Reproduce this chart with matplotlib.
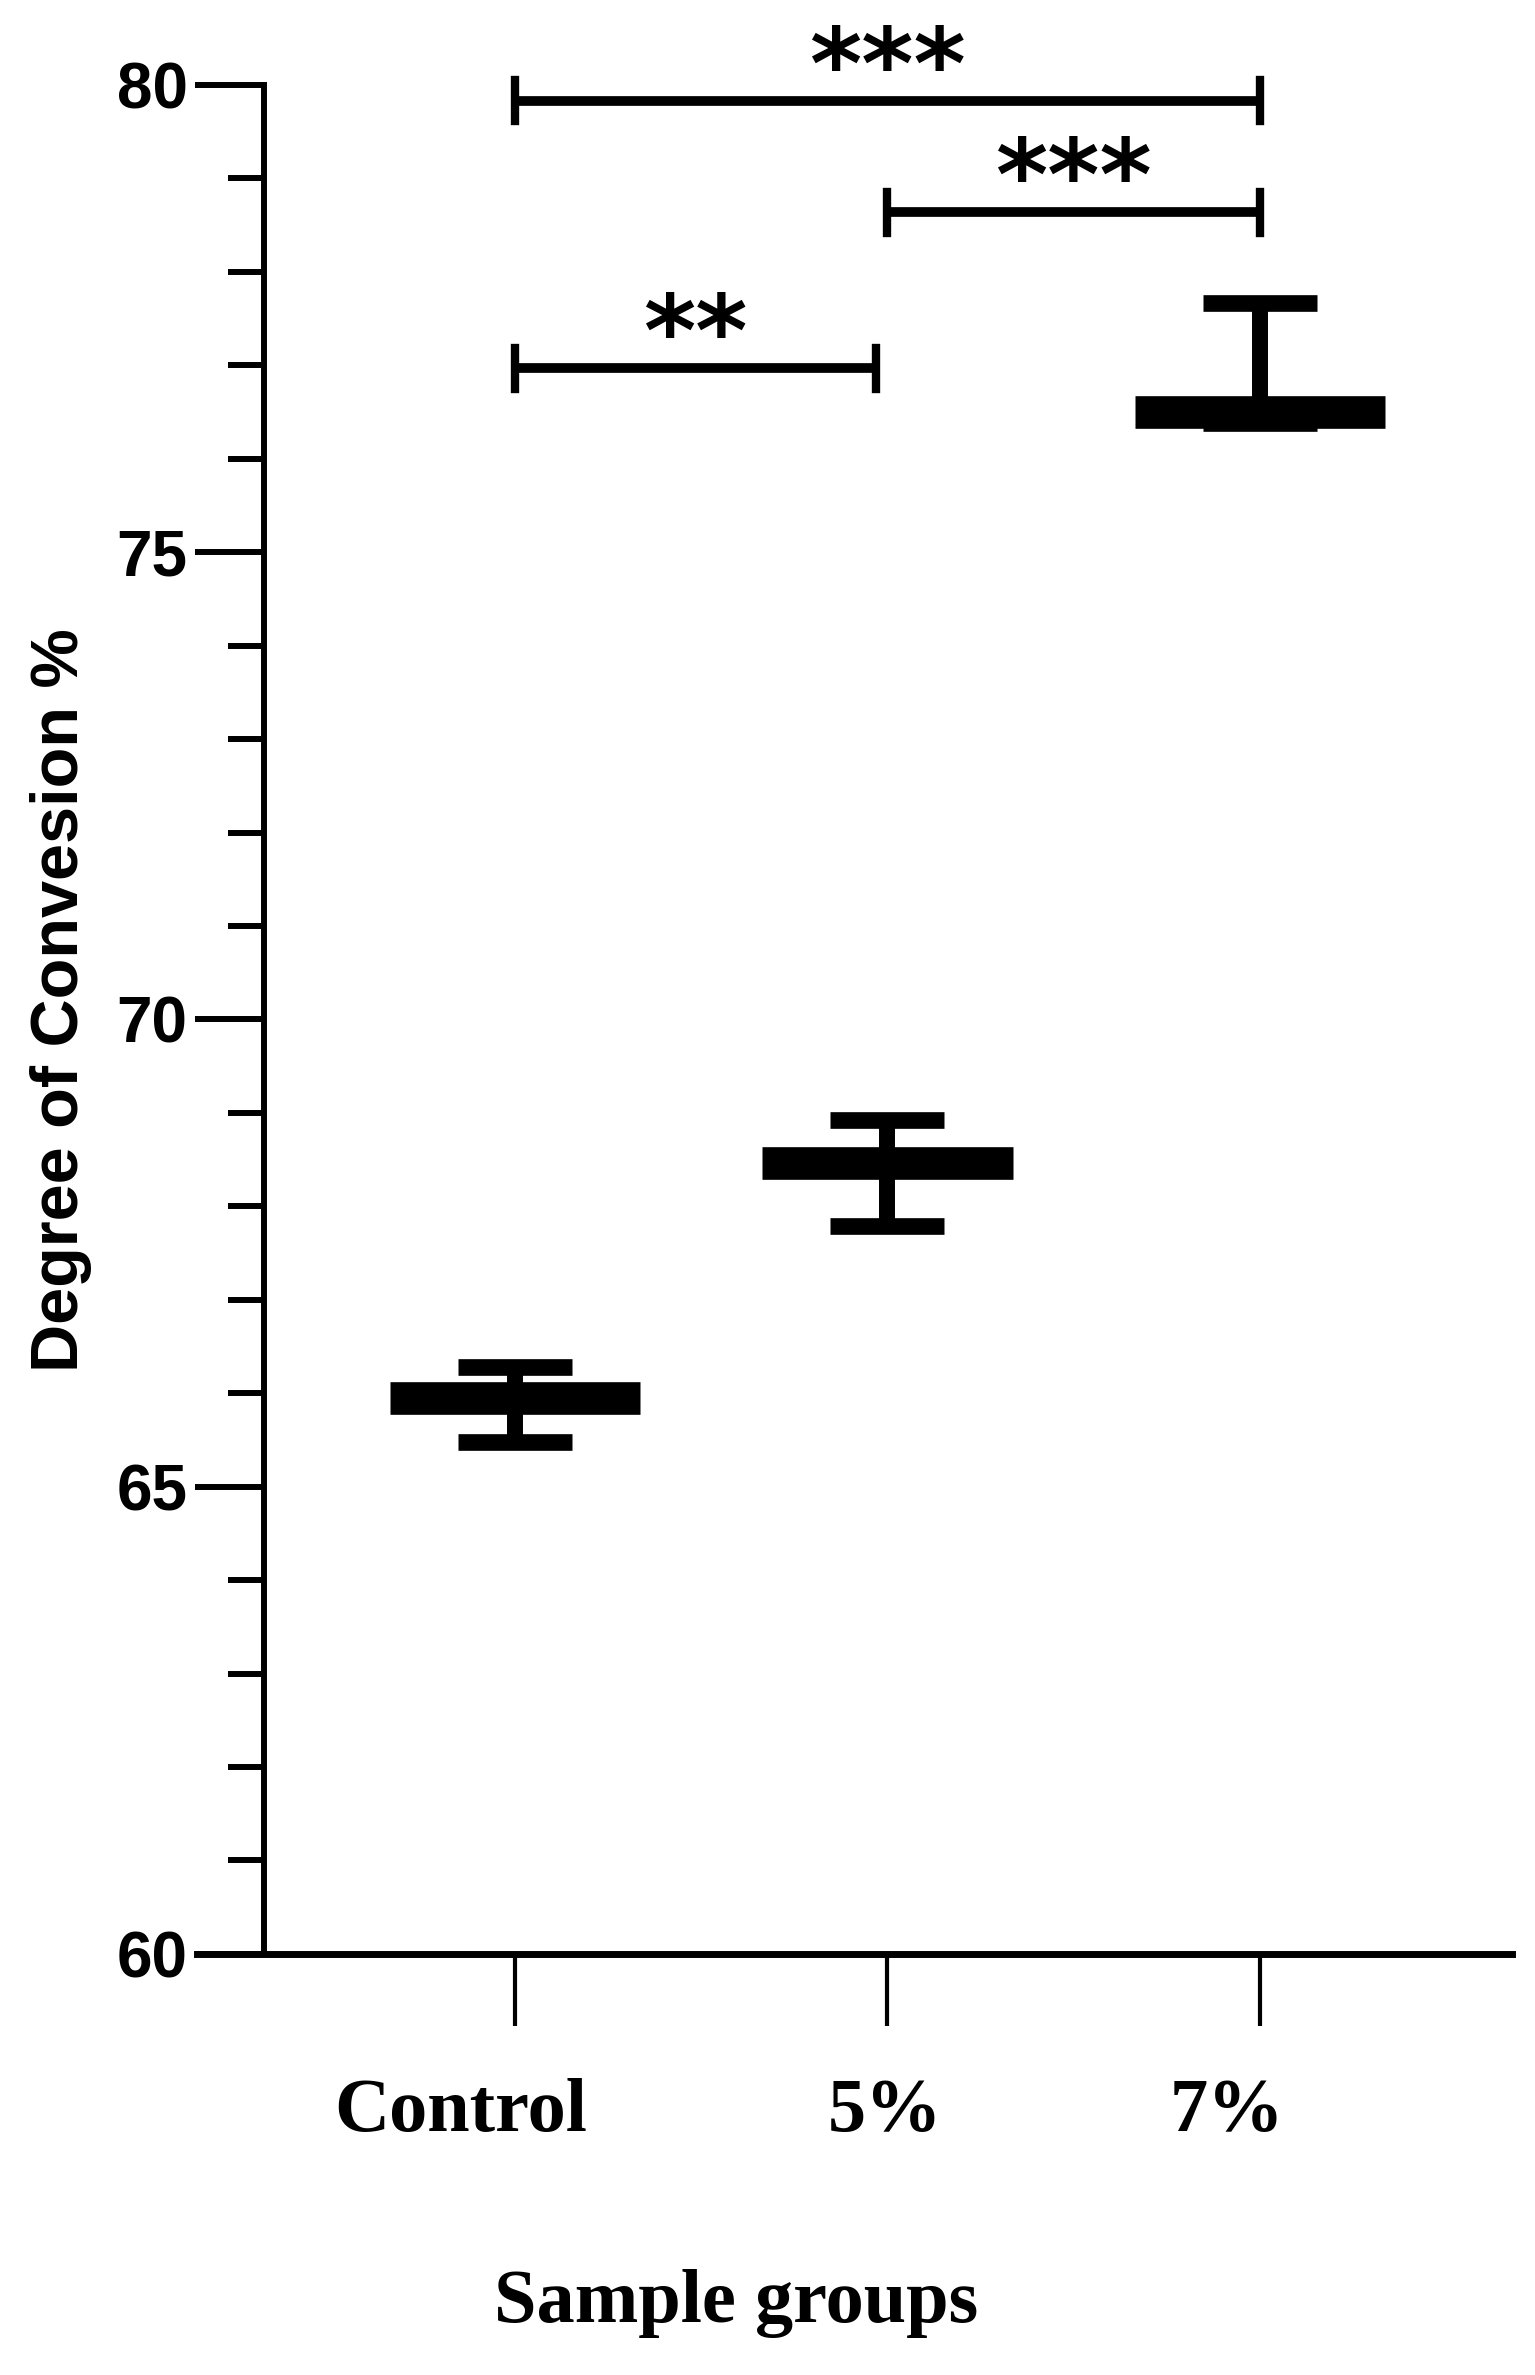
import numpy as np
from matplotlib import pyplot as plt
from matplotlib.ticker import MultipleLocator
from matplotlib.transforms import offset_copy

# data
groups = ["Control", "5%", "7%"]
means = [65.95, 68.46, 76.50]
upper = [66.28, 68.92, 77.67]
lower = [65.48, 67.79, 76.38]

# significance brackets: (left group, right group, bar height, label)
sig_left = [0, 1, 0]
sig_right = [2, 2, 1]
sig_level = [79.83, 78.64, 76.97]
sig_text = ["***", "***", "**"]

sans = ["Liberation Sans", "DejaVu Sans"]
serif = ["Liberation Serif", "DejaVu Serif"]

fig = plt.figure(figsize=(15.35, 23.75), dpi=100)
ax = fig.add_axes([0.1283, 0.1773, 0.985 - 0.1283, 0.9642 - 0.1773])

x = np.arange(len(groups))
means = np.array(means)
err = [means - np.array(lower), np.array(upper) - means]

# error bars (stem + caps)
ax.errorbar(x, means, yerr=err, fmt="none", ecolor="black", elinewidth=11.5,
            capsize=41, capthick=12, clip_on=False, zorder=3)
# mean line
ax.hlines(means, x - 0.336, x + 0.336, colors="black", linewidth=23.5, zorder=4)

# significance brackets
for l, r, h, t in zip(sig_left, sig_right, sig_level, sig_text):
    rr = r - 0.03 if r - l == 1 and l == 0 else r
    ax.plot([l, rr], [h, h], color="black", lw=7, clip_on=False, solid_capstyle="butt")
    ax.plot([l, l], [h - 0.22, h + 0.22], color="black", lw=6, clip_on=False)
    ax.plot([rr, rr], [h - 0.22, h + 0.22], color="black", lw=6, clip_on=False)
    ax.text((l + rr) / 2, h + 0.02, t, ha="center", va="baseline", fontsize=72,
            fontweight="bold", family="DejaVu Sans", clip_on=False, zorder=5)

ax.set_xlim(-0.854, 2.677)
ax.set_ylim(60, 80)

for s in ["top", "right"]:
    ax.spines[s].set_visible(False)
ax.spines["left"].set_position(("data", -0.674))
ax.spines["left"].set_linewidth(4.3)
ax.spines["bottom"].set_linewidth(5)

ax.yaxis.set_major_locator(MultipleLocator(5))
ax.yaxis.set_minor_locator(MultipleLocator(1))
ax.tick_params(axis="y", which="major", length=50, width=4.3, pad=5)
ax.tick_params(axis="y", which="minor", length=26, width=4.3)
for lab in ax.get_yticklabels():
    lab.set_family(sans)
    lab.set_fontweight("bold")
    lab.set_fontsize(46)

ax.set_xticks(x)
ax.set_xticklabels(groups)
ax.tick_params(axis="x", which="major", length=52, width=3, pad=37)
label_shift = [-54, -2, -33]
for lab, dx in zip(ax.get_xticklabels(), label_shift):
    lab.set_family(serif)
    lab.set_fontweight("bold")
    lab.set_fontsize(55)
    lab.set_transform(offset_copy(lab.get_transform(), fig=fig, x=dx, y=0, units="dots"))

fig.text(61 / 1535, 1 - 1000 / 2375, "Degree of Convesion %", rotation=90,
         ha="center", va="center", fontsize=48, fontweight="bold", family=sans)
fig.text(736 / 1535, 1 - 2303 / 2375, "Sample groups", ha="center", va="center",
         fontsize=55, fontweight="bold", family=serif)

fig.savefig("out.png", dpi=100)
